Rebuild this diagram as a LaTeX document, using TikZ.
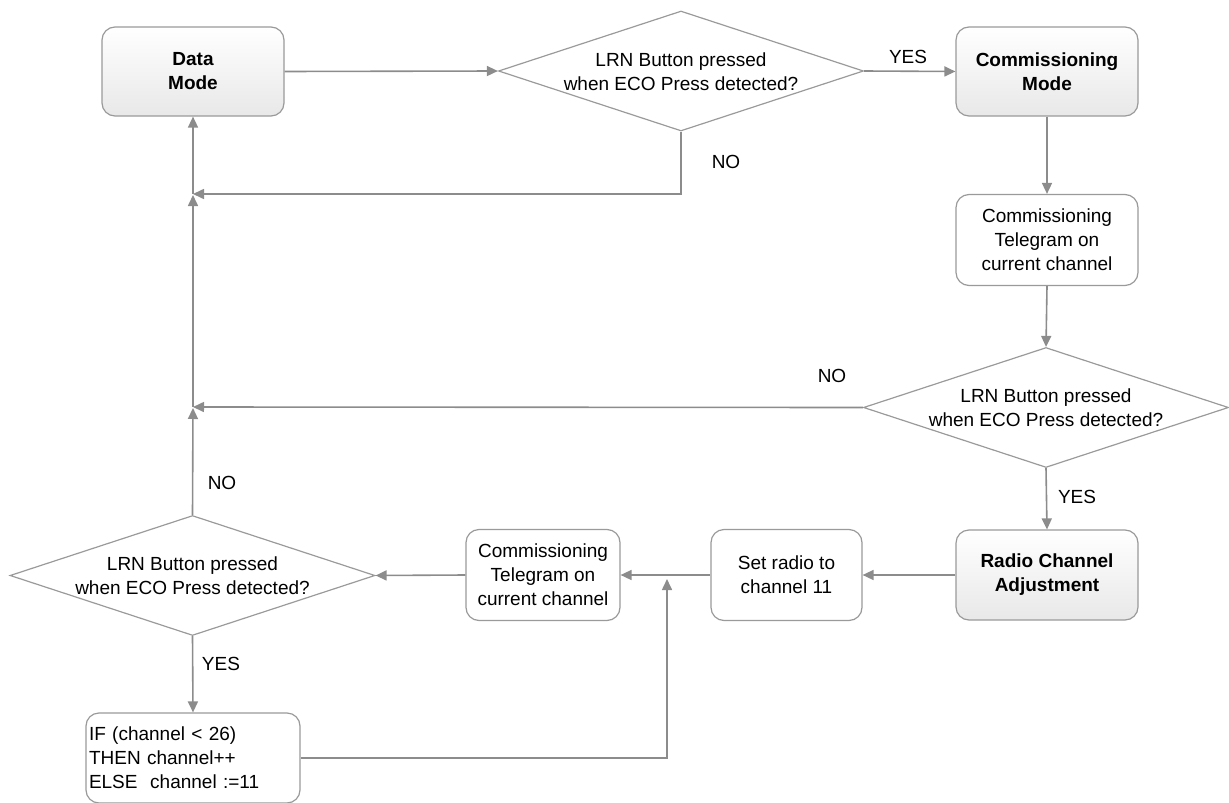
\documentclass[tikz,border=0pt]{standalone}
\usepackage{fontspec}
\setmainfont{Liberation Sans}
\usetikzlibrary{shapes.geometric,arrows.meta}
\definecolor{linec}{HTML}{8C8C8C}
\definecolor{boxc}{HTML}{9A9A9A}
\begin{document}
\begin{tikzpicture}[x=1pt,y=-1pt,
  every node/.style={font=\fontsize{19}{24}\selectfont},
  boldbox/.style={draw=boxc, line width=1.2pt, rounded corners=13pt, top color=white, bottom color=black!9,
    minimum width=182pt, minimum height=89pt, align=center, inner sep=2pt, font=\fontsize{19}{24}\selectfont\bfseries},
  plainbox/.style={draw=boxc, line width=1.2pt, rounded corners=13pt, fill=white,
    minimum height=91pt, align=center, inner sep=2pt},
  decis/.style={diamond, draw=boxc, line width=1.2pt, minimum width=365pt, minimum height=120pt, inner sep=0pt},
  conn/.style={draw=linec, line width=1.6pt, -{Triangle[length=11pt,width=10pt]}},
  plainline/.style={draw=linec, line width=1.6pt},
  lbl/.style={inner sep=0pt}
]
\useasboundingbox (0,0) rectangle (1229,803);

% nodes
\node[boldbox] (data) at (193,71.5) {Data\\Mode};
\node[decis] (d1) at (681,71) {};
\node[align=center] (d1t) at (681,72) {LRN Button pressed\\when ECO Press detected?};
\node[boldbox] (comm) at (1047,71.5) {Commissioning\\Mode};
\node[plainbox, minimum width=182pt] (tel1) at (1047,240) {Commissioning\\Telegram on\\current channel};
\node[decis] (d2) at (1046,407.5) {};
\node[align=center] (d2t) at (1046,408) {LRN Button pressed\\when ECO Press detected?};
\node[boldbox, minimum height=90pt] (radio) at (1047,575) {Radio Channel\\Adjustment};
\node[plainbox, minimum width=151pt] (set) at (786.5,575) {Set radio to\\channel 11};
\node[plainbox, minimum width=154pt] (tel2) at (543,575) {Commissioning\\Telegram on\\current channel};
\node[decis] (d3) at (192.5,575.5) {};
\node[align=center] (d3t) at (192.5,576) {LRN Button pressed\\when ECO Press detected?};
\node[plainbox, minimum width=214pt, minimum height=90pt, text width=208pt, align=left, inner sep=3pt] (ifb) at (193,758)
  {IF (channel < 26)\\THEN channel++\\ELSE\ \ channel :=11};

% junction coordinates
\coordinate (j1) at (193,194);
\coordinate (j2) at (193,407);
\coordinate (j3) at (667,575);

% connectors
\draw[conn] (data.east) -- (d1.west);
\draw[conn] (d1.east) -- (comm.west);
\draw[conn] (d1.south) |- (j1);
\draw[conn] (comm.south) -- (tel1.north);
\draw[conn] (tel1.south) -- (d2.north);
\draw[conn] (d2.west) -- (j2);
\draw[conn] (d2.south) -- (radio.north);
\draw[conn] (radio.west) -- (set.east);
\draw[conn] (set.west) -- (tel2.east);
\draw[conn] (tel2.west) -- (d3.east);
\draw[conn] (d3.south) -- (ifb.north);
\draw[conn, shorten >=4pt] (ifb.east) -| (j3);
\draw[conn, shorten >=1pt] (d3.north) -- (j2);
\draw[conn, shorten >=1pt] (j2) -- (j1);
\draw[conn] (j1) -- (data.south);

% labels
\node[lbl] (l1) at (908,57) {YES};
\node[lbl] (l2) at (726,162) {NO};
\node[lbl] (l3) at (832,376) {NO};
\node[lbl] (l4) at (1077,497) {YES};
\node[lbl] (l5) at (222,483) {NO};
\node[lbl] (l6) at (221,664) {YES};
\end{tikzpicture}
\end{document}
